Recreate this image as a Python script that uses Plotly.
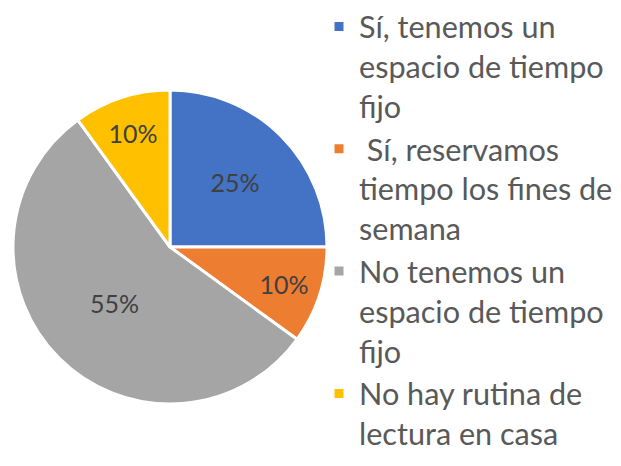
import plotly.graph_objects as go

labels = [
    "Sí, tenemos un<br>espacio de tiempo<br>fijo",
    "\u00a0Sí, reservamos<br>tiempo los fines de<br>semana",
    "No tenemos un<br>espacio de tiempo<br>fijo",
    "No hay rutina de<br>lectura en casa",
]
values = [25, 10, 55, 10]
colors = ["#4472C4", "#ED7D31", "#A5A5A5", "#FFC000"]

W, H = 621, 466
cx, cy, r = 170, 247, 157

fig = go.Figure(go.Pie(
    labels=labels,
    values=values,
    sort=False,
    direction="clockwise",
    rotation=0,
    marker=dict(colors=colors, line=dict(color="white", width=3)),
    texttemplate="%{percent:.0%}",
    textposition="inside",
    insidetextorientation="horizontal",
    insidetextfont=dict(family="Lato", size=25, color="#404040"),
    hoverinfo="skip",
    domain=dict(x=[(cx - r) / W, (cx + r) / W], y=[(H - cy - r) / H, (H - cy + r) / H]),
))

fig.update_layout(
    width=W, height=H,
    margin=dict(l=0, r=0, t=0, b=0),
    paper_bgcolor="white",
    showlegend=True,
    legend=dict(
        x=319 / W, y=1, xanchor="left", yanchor="top",
        valign="top",
        maxheight=1,
        borderwidth=0,
        font=dict(family="Lato", size=30.6, color="#595959"),
        itemwidth=30,
        bgcolor="rgba(0,0,0,0)",
    ),
)

fig.write_html(
    "out.html",
    config={"displayModeBar": False},
    post_script="document.body.style.margin='0';document.body.style.overflow='hidden';",
)
